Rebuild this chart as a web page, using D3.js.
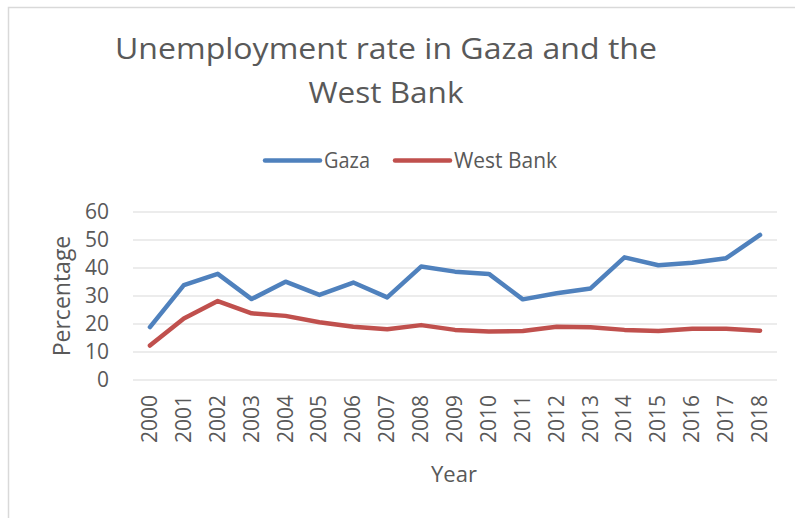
<!DOCTYPE html>
<html>
<head>
<meta charset="UTF-8">
<title>Unemployment rate in Gaza and the West Bank</title>
<script src="https://d3js.org/d3.v7.min.js"></script>
<style>
  body { margin: 0; background: #fff; }
  svg { display: block; font-family: "Open Sans", sans-serif; }
</style>
</head>
<body>
<svg></svg>
<script>
const years = ["2000","2001","2002","2003","2004","2005","2006","2007","2008","2009",
               "2010","2011","2012","2013","2014","2015","2016","2017","2018"];
const gaza = [18.9, 33.9, 37.9, 28.9, 35.1, 30.4, 34.8, 29.5, 40.5, 38.7,
              37.9, 28.8, 31.0, 32.7, 43.8, 41.0, 41.9, 43.5, 51.8];
const westBank = [12.3, 22.0, 28.2, 23.8, 22.9, 20.6, 19.0, 18.1, 19.6, 17.9,
                  17.3, 17.5, 19.0, 18.8, 17.9, 17.5, 18.3, 18.3, 17.6];
const yTicks = [0, 10, 20, 30, 40, 50, 60];
const seriesNames = ["Gaza", "West Bank"];
const colors = ["#4f81bd", "#c0504d"];

const width = 795, height = 518;
const svg = d3.select("svg").attr("width", width).attr("height", height);

// outer chart border
svg.append("rect")
  .attr("x", 8.5).attr("y", 7.5)
  .attr("width", 820).attr("height", 540)
  .attr("fill", "none").attr("stroke", "#d9d9d9").attr("stroke-width", 1.5);

const x = d3.scaleBand().domain(years).range([133, 777]);
const y = d3.scaleLinear().domain([0, 60]).range([380, 212]);

// gridlines
svg.append("g")
  .selectAll("line")
  .data(yTicks)
  .join("line")
  .attr("x1", 133).attr("x2", 777)
  .attr("y1", d => y(d)).attr("y2", d => y(d))
  .attr("stroke", "#d9d9d9").attr("stroke-width", 1.2);

// y axis
const yAxis = svg.append("g")
  .attr("transform", "translate(133,0)")
  .call(d3.axisLeft(y).tickValues(yTicks).tickSize(0).tickPadding(24));
yAxis.select(".domain").remove();
yAxis.selectAll("text")
  .attr("fill", "#595959").style("font-size", "21px").style("font-family", "'Open Sans', sans-serif");

// x axis (rotated labels)
const xAxis = svg.append("g")
  .attr("transform", "translate(0,380)")
  .call(d3.axisBottom(x).tickSize(0).tickPadding(0));
xAxis.select(".domain").remove();
xAxis.selectAll("text")
  .attr("fill", "#595959")
  .style("font-size", "21px").style("font-family", "'Open Sans', sans-serif")
  .attr("text-anchor", "end")
  .attr("dy", null).attr("y", 0)
  .attr("transform", "translate(7,15) rotate(-90)");

// lines
const line = d3.line()
  .x((d, i) => x(years[i]) + x.bandwidth() / 2)
  .y(d => y(d));

[gaza, westBank].forEach((s, k) => {
  svg.append("path")
    .datum(s)
    .attr("d", line)
    .attr("fill", "none")
    .attr("stroke", colors[k])
    .attr("stroke-width", 4.5)
    .attr("stroke-linecap", "round")
    .attr("stroke-linejoin", "round");
});

// title
const title = svg.append("text")
  .attr("fill", "#595959").attr("text-anchor", "middle")
  .style("font-size", "30px");
title.append("tspan").attr("x", 386).attr("y", 59)
  .attr("textLength", 542).attr("lengthAdjust", "spacingAndGlyphs")
  .text("Unemployment rate in Gaza and the");
title.append("tspan").attr("x", 386).attr("y", 103)
  .attr("textLength", 155).attr("lengthAdjust", "spacingAndGlyphs")
  .text("West Bank");

// legend
const legendX = [265, 395];
const legendW = [46, 103];
seriesNames.forEach((name, k) => {
  svg.append("line")
    .attr("x1", legendX[k]).attr("x2", legendX[k] + 55)
    .attr("y1", 160.5).attr("y2", 160.5)
    .attr("stroke", colors[k]).attr("stroke-width", 4.5)
    .attr("stroke-linecap", "round");
  svg.append("text")
    .attr("x", legendX[k] + 59).attr("y", 168)
    .attr("fill", "#595959").style("font-size", "21px")
    .attr("textLength", legendW[k]).attr("lengthAdjust", "spacingAndGlyphs")
    .text(name);
});

// axis titles
svg.append("text")
  .attr("transform", "translate(70,296) rotate(-90)")
  .attr("text-anchor", "middle")
  .attr("fill", "#595959").style("font-size", "23px")
  .text("Percentage");

svg.append("text")
  .attr("x", 454).attr("y", 482)
  .attr("text-anchor", "middle")
  .attr("fill", "#595959").style("font-size", "22px")
  .text("Year");
</script>
</body>
</html>
